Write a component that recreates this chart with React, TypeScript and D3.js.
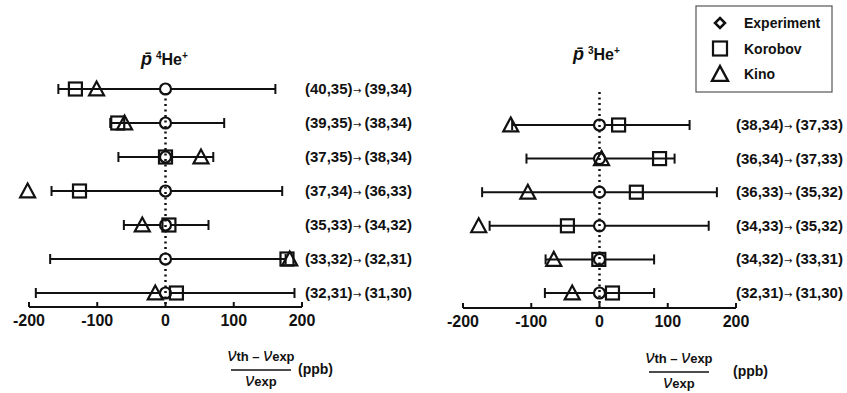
import { useEffect, useRef } from "react";
import * as d3 from "d3";

// left panel: pbar 4He+
const leftLabels = [
  "(40,35)→(39,34)",
  "(39,35)→(38,34)",
  "(37,35)→(38,34)",
  "(37,34)→(36,33)",
  "(35,33)→(34,32)",
  "(33,32)→(32,31)",
  "(32,31)→(31,30)",
];
const leftErrLow = [-157, -81, -69, -167, -61, -169, -190];
const leftErrHigh = [161, 86, 70, 171, 63, 176, 189];
const leftKorobov = [-132, -70, 0, -126, 5, 178, 16];
const leftKino = [-101, -60, 52, -202, -34, 182, -15];

// right panel: pbar 3He+
const rightLabels = [
  "(38,34)→(37,33)",
  "(36,34)→(37,33)",
  "(36,33)→(35,32)",
  "(34,33)→(35,32)",
  "(34,32)→(33,31)",
  "(32,31)→(31,30)",
];
const rightErrLow = [-128, -107, -172, -161, -79, -80];
const rightErrHigh = [132, 110, 172, 160, 80, 80];
const rightKorobov = [28, 88, 54, -47, -1, 19];
const rightKino = [-130, 3, -105, -177, -67, -40];

const xTicks = [-200, -100, 0, 100, 200];
const legendItems = ["Experiment", "Korobov", "Kino"];

const FONT = "'Liberation Sans', Arial, Helvetica, sans-serif";

type Panel = {
  labels: string[];
  lo: number[];
  hi: number[];
  korobov: number[];
  kino: number[];
  xRange: [number, number];
  yRange: [number, number];
  axisY: number;
  topY: number;
  labelX: number;
  title: { x: number; y: number; iso: string };
  frac: { cx: number; numY: number; lineY: number; denY: number; ppbX: number; ppbY: number };
};

const panels: Panel[] = [
  {
    labels: leftLabels,
    lo: leftErrLow,
    hi: leftErrHigh,
    korobov: leftKorobov,
    kino: leftKino,
    xRange: [29, 302],
    yRange: [89, 293],
    axisY: 307,
    topY: 93,
    labelX: 305,
    title: { x: 141, y: 65, iso: "4" },
    frac: { cx: 261, numY: 361, lineY: 370, denY: 386, ppbX: 298, ppbY: 374 },
  },
  {
    labels: rightLabels,
    lo: rightErrLow,
    hi: rightErrHigh,
    korobov: rightKorobov,
    kino: rightKino,
    xRange: [463, 736],
    yRange: [125, 293],
    axisY: 308,
    topY: 92,
    labelX: 736,
    title: { x: 573, y: 60, iso: "3" },
    frac: { cx: 679, numY: 363, lineY: 372, denY: 388, ppbX: 733, ppbY: 376 },
  },
];

const triPath = (cx: number, cy: number, s: number) =>
  `M${cx - s / 2},${cy + s * 0.43}L${cx + s / 2},${cy + s * 0.43}L${cx},${cy - s * 0.5}Z`;

export default function App() {
  const svgRef = useRef<SVGSVGElement>(null);

  useEffect(() => {
    if (!svgRef.current) return;
    const svg = d3.select(svgRef.current);
    svg.selectAll("*").remove();

    panels.forEach((p) => {
      const x = d3.scaleLinear().domain([-200, 200]).range(p.xRange);
      const y = d3
        .scalePoint<number>()
        .domain(d3.range(p.labels.length))
        .range(p.yRange);
      const g = svg.append("g");

      // 軸
      g.append("line")
        .attr("x1", x(-200))
        .attr("x2", x(200))
        .attr("y1", p.axisY)
        .attr("y2", p.axisY)
        .attr("stroke", "#111")
        .attr("stroke-width", 2);
      xTicks.forEach((t) => {
        g.append("line")
          .attr("x1", x(t))
          .attr("x2", x(t))
          .attr("y1", p.axisY)
          .attr("y2", p.axisY - 5)
          .attr("stroke", "#111")
          .attr("stroke-width", 2);
        g.append("text")
          .attr("x", x(t))
          .attr("y", p.axisY + 19)
          .attr("text-anchor", "middle")
          .attr("font-family", FONT)
          .attr("font-weight", "bold")
          .attr("font-size", 16)
          .attr("fill", "#111")
          .text(t);
      });

      // エラーバー
      p.labels.forEach((_, i) => {
        const yy = y(i) as number;
        g.append("line")
          .attr("x1", x(p.lo[i]))
          .attr("x2", x(p.hi[i]))
          .attr("y1", yy)
          .attr("y2", yy)
          .attr("stroke", "#111")
          .attr("stroke-width", 2);
        [p.lo[i], p.hi[i]].forEach((v) => {
          g.append("line")
            .attr("x1", x(v))
            .attr("x2", x(v))
            .attr("y1", yy - 5)
            .attr("y2", yy + 5)
            .attr("stroke", "#111")
            .attr("stroke-width", 2);
        });
        g.append("circle")
          .attr("cx", x(0))
          .attr("cy", yy)
          .attr("r", 5.5)
          .attr("fill", "white")
          .attr("stroke", "#111")
          .attr("stroke-width", 2.2);
      });

      // 点線
      g.append("line")
        .attr("x1", x(0))
        .attr("x2", x(0))
        .attr("y1", p.topY)
        .attr("y2", p.axisY)
        .attr("stroke", "#111")
        .attr("stroke-width", 2.5)
        .attr("stroke-dasharray", "2 3.5");

      p.labels.forEach((label, i) => {
        const yy = y(i) as number;
        g.append("rect")
          .attr("x", x(p.korobov[i]) - 6.5)
          .attr("y", yy - 6.5)
          .attr("width", 13)
          .attr("height", 13)
          .attr("fill", "none")
          .attr("stroke", "#111")
          .attr("stroke-width", 2.2);
        g.append("path")
          .attr("d", triPath(x(p.kino[i]), yy, 15))
          .attr("fill", "none")
          .attr("stroke", "#111")
          .attr("stroke-width", 2.2)
          .attr("stroke-linejoin", "miter");
        const [from, to] = label.split("→");
        const lt = g
          .append("text")
          .attr("x", p.labelX)
          .attr("y", yy + 5)
          .attr("font-family", FONT)
          .attr("font-weight", "bold")
          .attr("font-size", 15)
          .attr("fill", "#111");
        lt.append("tspan").text(from);
        lt.append("tspan")
          .attr("font-family", "'DejaVu Sans'")
          .attr("font-weight", "normal")
          .attr("font-size", 10)
          .attr("dx", 0.5)
          .text("→");
        lt.append("tspan").attr("dx", 3).text(to);
      });

      // タイトル
      const t = g
        .append("text")
        .attr("x", p.title.x)
        .attr("y", p.title.y)
        .attr("font-family", FONT)
        .attr("font-weight", "bold")
        .attr("font-size", 16)
        .attr("fill", "#111");
      t.append("tspan").attr("font-style", "italic").attr("font-size", 18).text("p̄");
      t.append("tspan").attr("dx", 4).attr("dy", -6).attr("font-size", 10).text(p.title.iso);
      t.append("tspan").attr("dy", 6).text("He");
      t.append("tspan").attr("dy", -6).attr("font-size", 10).text("+");

      // 軸ラベル（分数）
      const f = p.frac;
      const num = g
        .append("text")
        .attr("x", f.cx)
        .attr("y", f.numY)
        .attr("text-anchor", "middle")
        .attr("font-family", FONT)
        .attr("font-weight", "bold")
        .attr("font-size", 14)
        .attr("fill", "#111");
      num.append("tspan").attr("font-style", "italic").attr("font-weight", "normal").attr("font-size", 18).text("ν");
      num.append("tspan").attr("font-size", 13).text("th – ");
      num.append("tspan").attr("font-style", "italic").attr("font-weight", "normal").attr("font-size", 18).text("ν");
      num.append("tspan").attr("font-size", 13).text("exp");
      g.append("line")
        .attr("x1", f.cx - 30)
        .attr("x2", f.cx + 30)
        .attr("y1", f.lineY)
        .attr("y2", f.lineY)
        .attr("stroke", "#111")
        .attr("stroke-width", 1.5);
      const den = g
        .append("text")
        .attr("x", f.cx)
        .attr("y", f.denY)
        .attr("text-anchor", "middle")
        .attr("font-family", FONT)
        .attr("font-weight", "bold")
        .attr("font-size", 14)
        .attr("fill", "#111");
      den.append("tspan").attr("font-style", "italic").attr("font-weight", "normal").attr("font-size", 18).text("ν");
      den.append("tspan").attr("font-size", 13).text("exp");
      g.append("text")
        .attr("x", f.ppbX)
        .attr("y", f.ppbY)
        .attr("font-family", FONT)
        .attr("font-weight", "bold")
        .attr("font-size", 14)
        .attr("fill", "#111")
        .text("(ppb)");
    });

    // 凡例
    const lg = svg.append("g");
    lg.append("rect")
      .attr("x", 696)
      .attr("y", 6)
      .attr("width", 136)
      .attr("height", 86)
      .attr("fill", "white")
      .attr("stroke", "#555")
      .attr("stroke-width", 1.2);
    const ly = d3.scalePoint<string>().domain(legendItems).range([23, 74]);
    legendItems.forEach((name, i) => {
      const yy = ly(name) as number;
      if (i === 0) {
        lg.append("path")
          .attr("d", `M720,${yy - 5}L725,${yy}L720,${yy + 5}L715,${yy}Z`)
          .attr("fill", "none")
          .attr("stroke", "#111")
          .attr("stroke-width", 2.5);
      } else if (i === 1) {
        lg.append("rect")
          .attr("x", 713)
          .attr("y", yy - 7)
          .attr("width", 14)
          .attr("height", 14)
          .attr("fill", "none")
          .attr("stroke", "#111")
          .attr("stroke-width", 2.2);
      } else {
        lg.append("path")
          .attr("d", triPath(720, yy, 16))
          .attr("fill", "none")
          .attr("stroke", "#111")
          .attr("stroke-width", 2.4);
      }
      lg.append("text")
        .attr("x", 744)
        .attr("y", yy + 5)
        .attr("font-family", FONT)
        .attr("font-weight", "bold")
        .attr("font-size", 14)
        .attr("fill", "#111")
        .text(name);
    });
  }, []);

  return (
    <svg
      ref={svgRef}
      width={847}
      height={393}
      style={{ position: "absolute", left: 0, top: 0, background: "white" }}
    />
  );
}
